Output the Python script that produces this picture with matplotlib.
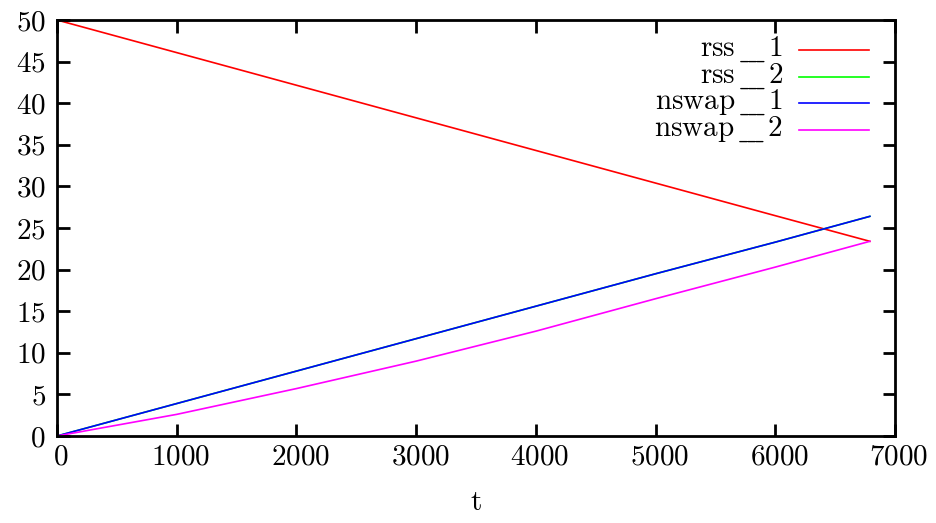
import numpy as np
import matplotlib
matplotlib.use('Agg')
import matplotlib.pyplot as plt
from matplotlib.transforms import ScaledTranslation

# values
t = [0, 1000, 2000, 3000, 4000, 5000, 6000, 6790]
rss_1 = [50.0, 46.08, 42.16, 38.24, 34.32, 30.4, 26.48, 23.4]
rss_2 = [0.0, 3.9, 7.8, 11.7, 15.6, 19.5, 23.3, 26.4]
nswap_1 = [0.0, 3.9, 7.8, 11.7, 15.6, 19.5, 23.3, 26.4]
nswap_2 = [0.0, 2.6, 5.7, 9.0, 12.6, 16.5, 20.3, 23.4]

us = r'\hspace{0.12}{}_{\_\!\_\!\_}\hspace{0.05}'
names = [r'$\mathrm{rss}' + us + r'\mathrm{1}$', r'$\mathrm{rss}' + us + r'\mathrm{2}$',
         r'$\mathrm{nswap}' + us + r'\mathrm{1}$', r'$\mathrm{nswap}' + us + r'\mathrm{2}$']
series = [rss_1, rss_2, nswap_1, nswap_2]
colors = ['#ff0000', '#00ff00', '#0000ff', '#ff00ff']

plt.rcParams['font.family'] = ['cmr10', 'DejaVu Serif']
plt.rcParams['mathtext.fontset'] = 'cm'
plt.rcParams['axes.formatter.use_mathtext'] = True

fs = 21
fig = plt.figure(figsize=(9.37, 5.23), dpi=100)
ax = fig.add_axes([57 / 937, 1 - 436 / 523, 838 / 937, 416 / 523])

for y, c in zip(series, colors):
    ax.plot(t, y, color=c, lw=1.2)

ax.set_xlim(0, 7000)
ax.set_ylim(0, 50)
ax.set_xticks(range(0, 7001, 1000))
ax.set_yticks(range(0, 51, 5))
ax.tick_params(direction='in', length=9, width=2, top=True, right=True,
               labelsize=fs)
ax.tick_params(axis='x', pad=6)
ax.tick_params(axis='y', pad=8)
shift = ScaledTranslation(4 / 100, 0, fig.dpi_scale_trans)
for lab in ax.get_xticklabels():
    lab.set_transform(lab.get_transform() + shift)
for s in ax.spines.values():
    s.set_linewidth(2)
ax.set_xlabel('t', fontsize=fs, labelpad=14)

# gnuplot-style key: right aligned text, sample line after it
for i, (n, c) in enumerate(zip(names, colors)):
    yk = 0.928 - i * 0.0641
    ax.text(0.866, yk - 0.0168, n, transform=ax.transAxes, ha='right', va='baseline',
            fontsize=fs)
    ax.plot([0.885, 0.969], [yk, yk], transform=ax.transAxes, color=c, lw=1.2)

fig.savefig('out.png', dpi=100)
